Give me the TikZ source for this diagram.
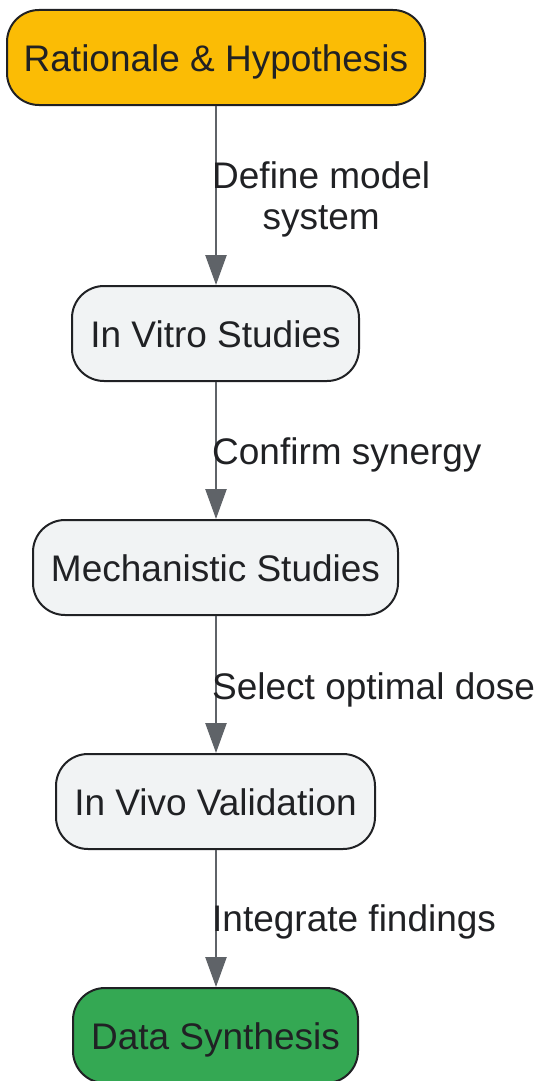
\documentclass[tikz,border=0pt]{standalone}
\usepackage{fontspec}
\setmainfont{Liberation Sans}
\usetikzlibrary{arrows.meta}
\definecolor{yel}{HTML}{FBBC05}
\definecolor{grn}{HTML}{34A853}
\definecolor{gry}{HTML}{F1F3F4}
\definecolor{bord}{HTML}{202124}
\definecolor{arr}{HTML}{5F6368}
\definecolor{txt}{HTML}{202124}
\begin{document}
\begin{tikzpicture}[x=1pt,y=1pt,
  box/.style={draw=bord, line width=2pt, rounded corners=32pt, minimum height=95pt,
    inner sep=0pt, text height=36pt, text depth=8pt, text=txt, font=\fontsize{37}{42}\selectfont},
  conn/.style={draw=arr, line width=2.5pt, -{Triangle[length=30pt,width=21pt]}},
  lbl/.style={anchor=west, inner sep=0pt, text=txt, align=center, font=\fontsize{37}{41}\selectfont}
]
\useasboundingbox (0,0) rectangle (540,-1081);
\node[box, fill=yel, minimum width=418pt] (n1) at (216,-57.5) {Rationale \& Hypothesis};
\node[box, fill=gry, minimum width=287pt] (n2) at (215.5,-333.5) {In Vitro Studies};
\node[box, fill=gry, minimum width=365pt] (n3) at (215.5,-567.5) {Mechanistic Studies};
\node[box, fill=gry, minimum width=319pt] (n4) at (215.5,-801.5) {In Vivo Validation};
\node[box, fill=grn, minimum width=285pt] (n5) at (215.5,-1035.5) {Data Synthesis};
\draw[conn] (n1.south -| 216,0) -- (n2.north -| 216,0);
\draw[conn] (n2.south -| 216,0) -- (n3.north -| 216,0);
\draw[conn] (n3.south -| 216,0) -- (n4.north -| 216,0);
\draw[conn] (n4.south -| 216,0) -- (n5.north -| 216,0);
\node[lbl] (l1) at (212,-199) {Define model\\system};
\node[lbl] (l2) at (212,-455) {Confirm synergy};
\node[lbl] (l3) at (212,-690) {Select optimal dose};
\node[lbl] (l4) at (212,-922) {Integrate findings};
\end{tikzpicture}
\end{document}
